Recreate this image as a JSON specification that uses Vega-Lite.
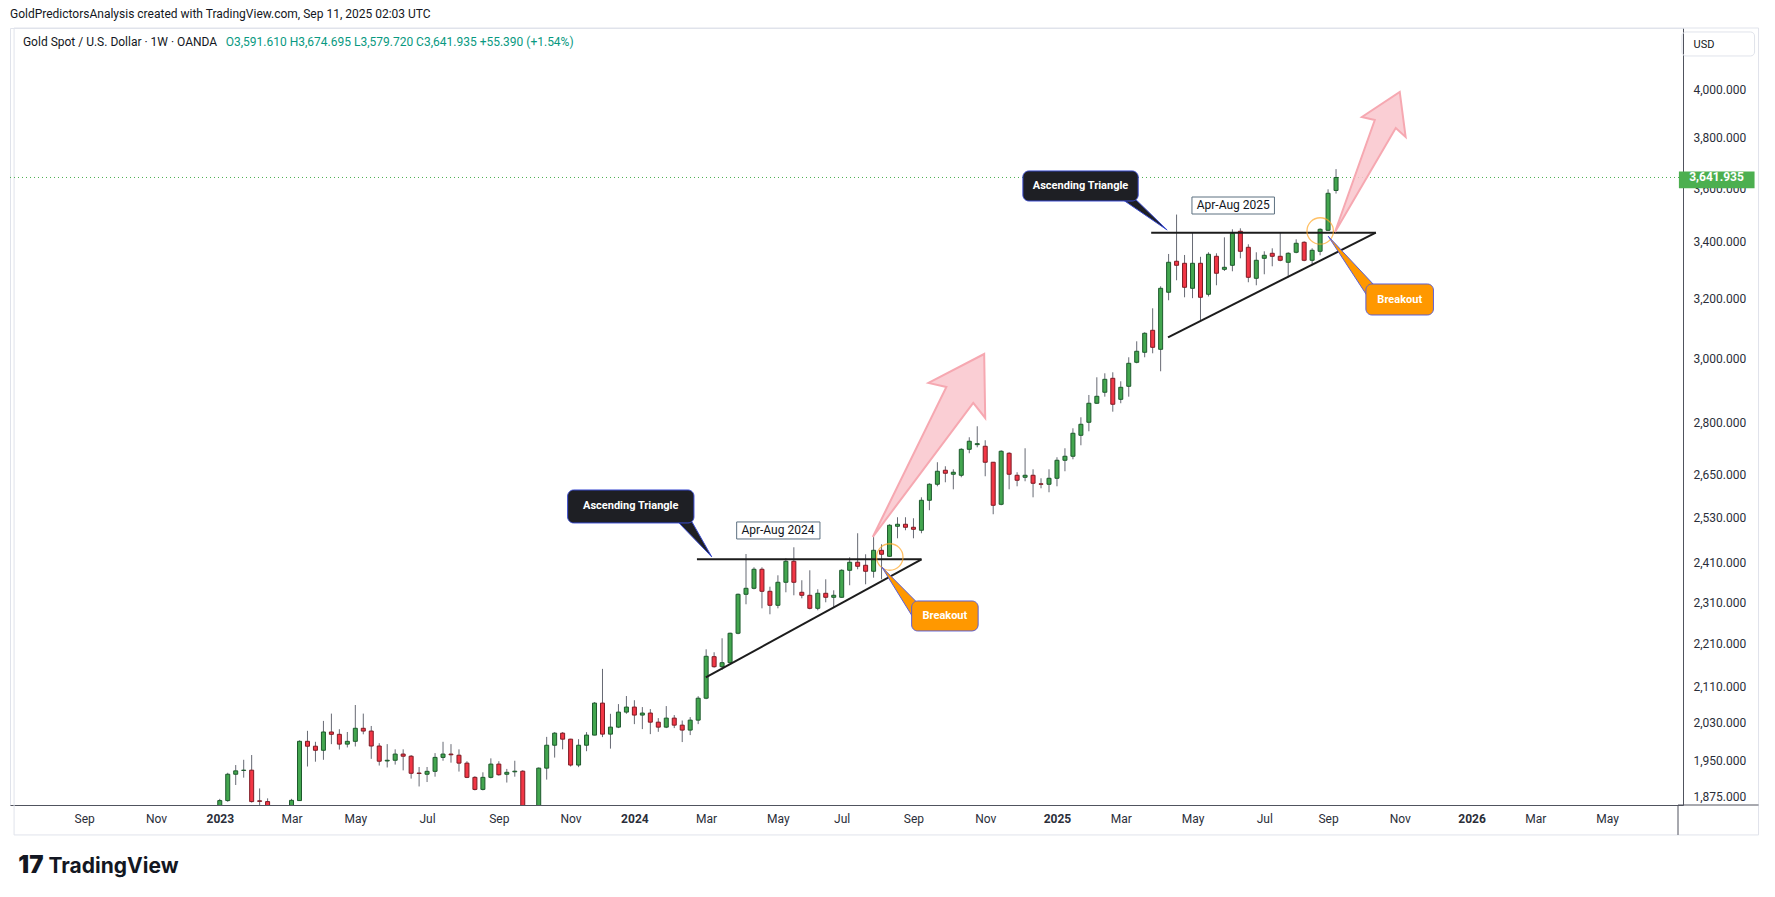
{
  "$schema": "https://vega.github.io/schema/vega-lite/v6.json",
  "width": 1673,
  "height": 777,
  "autosize": {"type": "none"},
  "padding": {"left": 10, "top": 28, "right": 92, "bottom": 92},
  "background": "#ffffff",
  "config": {"view": {"stroke": "#e0e3eb"}, "font": "Roboto"},
  "title": {"text": "GoldPredictorsAnalysis created with TradingView.com, Sep 11, 2025 02:03 UTC", "anchor": "start", "frame": "group", "offset": 7, "fontSize": 12, "fontWeight": "normal", "font": "Roboto", "color": "#131722"},
  "datasets": {
    "candles": [
      {"date":"2023-01-02","open":1826,"high":1871,"low":1822,"close":1867.5},
      {"date":"2023-01-09","open":1867.5,"high":1924,"low":1865,"close":1921},
      {"date":"2023-01-16","open":1921,"high":1940,"low":1899,"close":1928},
      {"date":"2023-01-23","open":1928.8,"high":1951,"low":1914,"close":1929.4},
      {"date":"2023-01-30","open":1929.4,"high":1961,"low":1863.5,"close":1865.5},
      {"date":"2023-02-06","open":1867,"high":1892,"low":1852,"close":1866},
      {"date":"2023-02-13","open":1865.5,"high":1872,"low":1819,"close":1842},
      {"date":"2023-02-20","open":1842,"high":1847,"low":1809,"close":1811},
      {"date":"2023-02-27","open":1811,"high":1858,"low":1804,"close":1856},
      {"date":"2023-03-06","open":1856,"high":1871,"low":1810,"close":1868},
      {"date":"2023-03-13","open":1867.5,"high":1992,"low":1867,"close":1990},
      {"date":"2023-03-20","open":1990,"high":2012.5,"low":1937,"close":1979.6},
      {"date":"2023-03-27","open":1979.6,"high":1989,"low":1947,"close":1971},
      {"date":"2023-04-03","open":1971,"high":2034,"low":1951,"close":2010},
      {"date":"2023-04-10","open":2010,"high":2050,"low":1984,"close":2005},
      {"date":"2023-04-17","open":2005,"high":2016,"low":1972.5,"close":1984},
      {"date":"2023-04-24","open":1984,"high":2010,"low":1977,"close":1990},
      {"date":"2023-05-01","open":1990,"high":2069,"low":1979,"close":2018},
      {"date":"2023-05-08","open":2018,"high":2050,"low":2005,"close":2012},
      {"date":"2023-05-15","open":2012,"high":2023,"low":1953,"close":1980},
      {"date":"2023-05-22","open":1980,"high":1986,"low":1939,"close":1948},
      {"date":"2023-05-29","open":1948.5,"high":1984,"low":1935,"close":1950},
      {"date":"2023-06-05","open":1950,"high":1973,"low":1941,"close":1963},
      {"date":"2023-06-12","open":1963,"high":1973,"low":1929,"close":1958.5},
      {"date":"2023-06-19","open":1958.5,"high":1961,"low":1912,"close":1923},
      {"date":"2023-06-26","open":1923.5,"high":1936,"low":1896,"close":1922.5},
      {"date":"2023-07-03","open":1921,"high":1936,"low":1905,"close":1927},
      {"date":"2023-07-10","open":1927,"high":1965,"low":1916,"close":1956},
      {"date":"2023-07-17","open":1956,"high":1989,"low":1949,"close":1963},
      {"date":"2023-07-24","open":1963,"high":1984,"low":1945,"close":1961.5},
      {"date":"2023-07-31","open":1960.6,"high":1973,"low":1926.5,"close":1944},
      {"date":"2023-08-07","open":1944,"high":1948,"low":1913,"close":1914.6},
      {"date":"2023-08-14","open":1914.6,"high":1917,"low":1888,"close":1890},
      {"date":"2023-08-21","open":1890,"high":1925,"low":1888,"close":1914.6},
      {"date":"2023-08-28","open":1914.6,"high":1954,"low":1912.5,"close":1942},
      {"date":"2023-09-04","open":1942,"high":1948,"low":1918,"close":1920},
      {"date":"2023-09-11","open":1921,"high":1932,"low":1904,"close":1925},
      {"date":"2023-09-18","open":1926,"high":1949,"low":1916,"close":1927.3},
      {"date":"2023-09-25","open":1927.3,"high":1929.4,"low":1846,"close":1848},
      {"date":"2023-10-02","open":1848,"high":1851,"low":1810,"close":1832},
      {"date":"2023-10-09","open":1832,"high":1935,"low":1830,"close":1933.6},
      {"date":"2023-10-16","open":1933.6,"high":1999.5,"low":1910,"close":1981.7},
      {"date":"2023-10-23","open":1981.7,"high":2009.7,"low":1955.6,"close":2007.5},
      {"date":"2023-10-30","open":2007.5,"high":2009.7,"low":1973,"close":1994.6},
      {"date":"2023-11-06","open":1994.6,"high":1995.3,"low":1937,"close":1940},
      {"date":"2023-11-13","open":1940,"high":1994.6,"low":1935.7,"close":1981.7},
      {"date":"2023-11-20","open":1981.7,"high":2009.7,"low":1969,"close":2003.3},
      {"date":"2023-11-27","open":2003.3,"high":2075.4,"low":2003,"close":2073.2},
      {"date":"2023-12-04","open":2073.2,"high":2150.7,"low":1999,"close":2005.4},
      {"date":"2023-12-11","open":2005.4,"high":2049.6,"low":1974.5,"close":2020.5},
      {"date":"2023-12-18","open":2020.5,"high":2071,"low":2018.4,"close":2053.3},
      {"date":"2023-12-25","open":2053.3,"high":2089,"low":2049.6,"close":2064.4},
      {"date":"2024-01-01","open":2064.4,"high":2079.6,"low":2027,"close":2046.8},
      {"date":"2024-01-08","open":2046.8,"high":2064.4,"low":2016.2,"close":2051.2},
      {"date":"2024-01-15","open":2051.2,"high":2060,"low":2005.4,"close":2031.3},
      {"date":"2024-01-22","open":2031.3,"high":2040.1,"low":2010.4,"close":2020.5},
      {"date":"2024-01-29","open":2020.5,"high":2066.6,"low":2018.4,"close":2040.1},
      {"date":"2024-02-05","open":2040.1,"high":2046.8,"low":2018.4,"close":2024.8},
      {"date":"2024-02-12","open":2024.8,"high":2034.9,"low":1988.4,"close":2014.1},
      {"date":"2024-02-19","open":2014.1,"high":2042.3,"low":2003.3,"close":2035.7},
      {"date":"2024-02-26","open":2035.7,"high":2088.6,"low":2027,"close":2084.1},
      {"date":"2024-03-04","open":2084.1,"high":2196.3,"low":2081.9,"close":2179.9},
      {"date":"2024-03-11","open":2179,"high":2189.3,"low":2153.4,"close":2155.7},
      {"date":"2024-03-18","open":2155.7,"high":2222.4,"low":2148.2,"close":2165},
      {"date":"2024-03-25","open":2165,"high":2235.8,"low":2164,"close":2234.4},
      {"date":"2024-04-01","open":2234.4,"high":2331.5,"low":2232,"close":2329.7},
      {"date":"2024-04-08","open":2329.7,"high":2432.5,"low":2304.9,"close":2344.7},
      {"date":"2024-04-15","open":2344.7,"high":2398.1,"low":2342,"close":2393},
      {"date":"2024-04-22","open":2393,"high":2398.1,"low":2294.9,"close":2337.2},
      {"date":"2024-04-29","open":2337.2,"high":2348.7,"low":2280.3,"close":2302.4},
      {"date":"2024-05-06","open":2302.4,"high":2377.6,"low":2294.9,"close":2359.9},
      {"date":"2024-05-13","open":2359.9,"high":2421.3,"low":2334.7,"close":2413.6},
      {"date":"2024-05-20","open":2413.6,"high":2450.1,"low":2327.2,"close":2359.9},
      {"date":"2024-05-27","open":2334.7,"high":2365,"low":2319.7,"close":2327.2},
      {"date":"2024-06-03","open":2327.2,"high":2390.4,"low":2292.5,"close":2294.9},
      {"date":"2024-06-10","open":2294.9,"high":2342.2,"low":2290.1,"close":2332.2},
      {"date":"2024-06-17","open":2332.2,"high":2367.4,"low":2309.8,"close":2322.2},
      {"date":"2024-06-24","open":2322.2,"high":2339.7,"low":2297.4,"close":2327.2},
      {"date":"2024-07-01","open":2322.2,"high":2393,"low":2321,"close":2390.4},
      {"date":"2024-07-08","open":2390.4,"high":2423.9,"low":2352.3,"close":2411.1},
      {"date":"2024-07-15","open":2411.1,"high":2487.2,"low":2393,"close":2400.7},
      {"date":"2024-07-22","open":2403.3,"high":2431.8,"low":2354.8,"close":2387.9},
      {"date":"2024-07-29","open":2387.9,"high":2479.2,"low":2371.5,"close":2442.2},
      {"date":"2024-08-05","open":2442.2,"high":2458,"low":2367.4,"close":2431.8},
      {"date":"2024-08-12","open":2426.5,"high":2511.3,"low":2425,"close":2508.6},
      {"date":"2024-08-19","open":2505.9,"high":2530.2,"low":2473.8,"close":2511.3},
      {"date":"2024-08-26","open":2511.3,"high":2530.2,"low":2495.2,"close":2503.2},
      {"date":"2024-09-02","open":2503.2,"high":2527.5,"low":2473.8,"close":2497.8},
      {"date":"2024-09-09","open":2495.2,"high":2584.9,"low":2487.2,"close":2576.7},
      {"date":"2024-09-16","open":2576.7,"high":2624.1,"low":2549.3,"close":2621.3},
      {"date":"2024-09-23","open":2621.3,"high":2683.9,"low":2615.6,"close":2658.1},
      {"date":"2024-09-30","open":2661,"high":2672.4,"low":2626.9,"close":2652.4},
      {"date":"2024-10-07","open":2649.6,"high":2663.7,"low":2607.2,"close":2655.3},
      {"date":"2024-10-14","open":2646.7,"high":2724.4,"low":2641,"close":2721.4},
      {"date":"2024-10-21","open":2721.4,"high":2756.7,"low":2709.9,"close":2745},
      {"date":"2024-10-28","open":2735,"high":2789.4,"low":2727.3,"close":2737.9},
      {"date":"2024-11-04","open":2730.3,"high":2747.9,"low":2643.9,"close":2683.9},
      {"date":"2024-11-11","open":2683.9,"high":2684.7,"low":2538.4,"close":2562.9},
      {"date":"2024-11-18","open":2565.6,"high":2718.6,"low":2562.9,"close":2715.7},
      {"date":"2024-11-25","open":2709.9,"high":2712.8,"low":2607.2,"close":2649.6},
      {"date":"2024-12-02","open":2646.7,"high":2655.3,"low":2615.6,"close":2632.6},
      {"date":"2024-12-09","open":2641,"high":2724.4,"low":2629.7,"close":2646.7},
      {"date":"2024-12-16","open":2646.7,"high":2663.7,"low":2584.9,"close":2624.1},
      {"date":"2024-12-23","open":2622.5,"high":2638.2,"low":2610,"close":2621.3},
      {"date":"2024-12-30","open":2621.3,"high":2663.7,"low":2598.9,"close":2638.2},
      {"date":"2025-01-06","open":2638.2,"high":2698.3,"low":2615.6,"close":2689.6},
      {"date":"2025-01-13","open":2689.6,"high":2724.4,"low":2658.1,"close":2701.2},
      {"date":"2025-01-20","open":2701.2,"high":2783.4,"low":2692.4,"close":2768.6},
      {"date":"2025-01-27","open":2762.6,"high":2816.4,"low":2733.2,"close":2795.4},
      {"date":"2025-02-03","open":2801.4,"high":2884.6,"low":2774.5,"close":2859.1},
      {"date":"2025-02-10","open":2859.1,"high":2939.8,"low":2857,"close":2880.5},
      {"date":"2025-02-17","open":2893,"high":2952.4,"low":2879.3,"close":2933.4},
      {"date":"2025-02-24","open":2936.6,"high":2955.6,"low":2833.4,"close":2856},
      {"date":"2025-03-03","open":2871.2,"high":2927.2,"low":2859.1,"close":2908.4},
      {"date":"2025-03-10","open":2911.5,"high":3003.5,"low":2879.3,"close":2984.2},
      {"date":"2025-03-17","open":2987.4,"high":3055.4,"low":2984.2,"close":3022.9},
      {"date":"2025-03-24","open":3019.6,"high":3085.1,"low":3003.5,"close":3081.8},
      {"date":"2025-03-31","open":3091.7,"high":3165.4,"low":3016.4,"close":3035.8},
      {"date":"2025-04-07","open":3029.3,"high":3241,"low":2958.8,"close":3234},
      {"date":"2025-04-14","open":3220.3,"high":3355.2,"low":3192.8,"close":3325.5},
      {"date":"2025-04-21","open":3329.1,"high":3500,"low":3262,"close":3314.8},
      {"date":"2025-04-28","open":3321.9,"high":3351.6,"low":3203,"close":3237.5},
      {"date":"2025-05-05","open":3234,"high":3431.6,"low":3200,"close":3321.9},
      {"date":"2025-05-12","open":3321.9,"high":3345,"low":3122.7,"close":3203},
      {"date":"2025-05-19","open":3213.3,"high":3361.3,"low":3205.8,"close":3354.1},
      {"date":"2025-05-26","open":3346.9,"high":3357.7,"low":3244.5,"close":3286.6},
      {"date":"2025-06-02","open":3300.5,"high":3415.7,"low":3294.6,"close":3307.6},
      {"date":"2025-06-09","open":3314.8,"high":3445.1,"low":3293.6,"close":3430.4},
      {"date":"2025-06-16","open":3437.8,"high":3448.8,"low":3339.7,"close":3364.9},
      {"date":"2025-06-23","open":3379.3,"high":3390.2,"low":3255,"close":3272.4},
      {"date":"2025-06-30","open":3268.9,"high":3361.3,"low":3244.5,"close":3332.6},
      {"date":"2025-07-07","open":3339.7,"high":3364.9,"low":3283,"close":3350.5},
      {"date":"2025-07-14","open":3357.7,"high":3375.7,"low":3311.2,"close":3346.9},
      {"date":"2025-07-21","open":3346.9,"high":3434.1,"low":3329.1,"close":3332.6},
      {"date":"2025-07-28","open":3325.5,"high":3361.3,"low":3272.4,"close":3357.7},
      {"date":"2025-08-04","open":3361.3,"high":3408.3,"low":3357.7,"close":3393.9},
      {"date":"2025-08-11","open":3397.5,"high":3401.2,"low":3329.1,"close":3332.6},
      {"date":"2025-08-18","open":3332.6,"high":3375.7,"low":3314.8,"close":3368.5},
      {"date":"2025-08-25","open":3364.9,"high":3448.8,"low":3350.5,"close":3445.1},
      {"date":"2025-09-01","open":3441.5,"high":3596.1,"low":3439,"close":3580.7},
      {"date":"2025-09-08","open":3591.61,"high":3674.695,"low":3579.72,"close":3641.935}
    ],
    "lines": [
      {"date":"2024-02-24T22:00:00Z","date2":"2024-09-09T02:00:00Z","price":2418.7,"price2":2418.7},
      {"date":"2024-03-03T17:00:00Z","date2":"2024-09-09T02:00:00Z","price":2131,"price2":2418.7},
      {"date":"2025-03-29T17:00:00Z","date2":"2025-10-12T22:00:00Z","price":3432.7,"price2":3432.7},
      {"date":"2025-04-13T12:00:00Z","date2":"2025-10-12T22:00:00Z","price":3068.5,"price2":3432.7}
    ],
    "edges": [
      {"date":"2026-07-05T05:00:00Z","date2":"2026-09-13T22:00:00Z","price":1858.7,"price2":1858.7},
      {"date":"2026-07-05T05:00:00Z","date2":"2026-07-05T05:00:00Z","price":1858.7,"price2":1800}
    ],
    "shapes": [
      {"shape":"a2024","kind":"arrow","ord":1,"date":"2024-07-28T07:00:00Z","price":2477.3},
      {"shape":"a2024","kind":"arrow","ord":2,"date":"2024-09-30T22:00:00Z","price":2909.3},
      {"shape":"a2024","kind":"arrow","ord":3,"date":"2024-09-15T05:00:00Z","price":2921.9},
      {"shape":"a2024","kind":"arrow","ord":4,"date":"2024-11-03T02:00:00Z","price":3014.1},
      {"shape":"a2024","kind":"arrow","ord":5,"date":"2024-11-04T00:00:00Z","price":2814.3},
      {"shape":"a2024","kind":"arrow","ord":6,"date":"2024-10-24T12:00:00Z","price":2860.0},
      {"shape":"a2025","kind":"arrow","ord":1,"date":"2025-09-07T02:00:00Z","price":3435.2},
      {"shape":"a2025","kind":"arrow","ord":2,"date":"2025-10-12T00:00:00Z","price":3873.5},
      {"shape":"a2025","kind":"arrow","ord":3,"date":"2025-09-30T17:00:00Z","price":3885.9},
      {"shape":"a2025","kind":"arrow","ord":4,"date":"2025-11-02T22:00:00Z","price":3991.4},
      {"shape":"a2025","kind":"arrow","ord":5,"date":"2025-11-08T02:00:00Z","price":3803.5},
      {"shape":"a2025","kind":"arrow","ord":6,"date":"2025-10-30T10:00:00Z","price":3840.3},
      {"shape":"p2024","kind":"callout","ord":1,"date":"2024-02-06T14:00:00Z","price":2522.9},
      {"shape":"p2024","kind":"callout","ord":2,"date":"2024-02-19T14:00:00Z","price":2522.9},
      {"shape":"p2024","kind":"callout","ord":3,"date":"2024-03-09T00:00:00Z","price":2424.7},
      {"shape":"p2025","kind":"callout","ord":1,"date":"2025-03-02T14:00:00Z","price":3562.6},
      {"shape":"p2025","kind":"callout","ord":2,"date":"2025-03-14T19:00:00Z","price":3562.6},
      {"shape":"p2025","kind":"callout","ord":3,"date":"2025-04-12T17:00:00Z","price":3442.6},
      {"shape":"b2024","kind":"breakout","ord":1,"date":"2024-08-05T05:00:00Z","price":2398.9},
      {"shape":"b2024","kind":"breakout","ord":2,"date":"2024-09-05T14:00:00Z","price":2308.1},
      {"shape":"b2024","kind":"breakout","ord":3,"date":"2024-09-03T00:00:00Z","price":2266.4},
      {"shape":"b2025","kind":"breakout","ord":1,"date":"2025-09-01T00:00:00Z","price":3420.5},
      {"shape":"b2025","kind":"breakout","ord":2,"date":"2025-10-13T19:00:00Z","price":3235.1},
      {"shape":"b2025","kind":"breakout","ord":3,"date":"2025-10-07T17:00:00Z","price":3193.8}
    ],
    "circles": [
      {"date":"2024-08-12T05:00:00Z","price":2424.7},
      {"date":"2025-08-25T02:00:00Z","price":3438.9}
    ],
    "boxes": [
      {"kind":"callout","date":"2023-11-03T10:00:00Z","date2":"2024-02-22T07:00:00Z","price":2605.3,"price2":2514.8},
      {"kind":"callout","date":"2024-12-07T02:00:00Z","date2":"2025-03-18T07:00:00Z","price":3667.5,"price2":3551.3},
      {"kind":"breakout","date":"2024-08-31T10:00:00Z","date2":"2024-10-28T19:00:00Z","price":2313.0,"price2":2239.9},
      {"kind":"breakout","date":"2025-10-04T05:00:00Z","date2":"2025-12-02T12:00:00Z","price":3249,"price2":3142.8},
      {"kind":"period","date":"2024-03-30T19:00:00Z","date2":"2024-06-11T22:00:00Z","price":2517.5,"price2":2472},
      {"kind":"period","date":"2025-05-04T12:00:00Z","date2":"2025-07-15T22:00:00Z","price":3566.5,"price2":3502.1},
      {"kind":"lastprice","date":"2026-07-06T00:00:00Z","date2":"2026-09-10T10:00:00Z","price":3665,"price2":3600},
      {"kind":"currency","date":"2026-07-08T17:00:00Z","date2":"2026-09-10T10:00:00Z","price":4256.6,"price2":4148.5},
      {"kind":"frame","date":"2022-07-05T10:00:00Z","date2":"2026-09-13T22:00:00Z","price":4274.8,"price2":1800}
    ],
    "texts": [
      {"kind":"callout","date":"2023-12-28T19:00:00Z","price":2559.6,"label":"Ascending Triangle"},
      {"kind":"callout","date":"2025-01-26T17:00:00Z","price":3608.9,"label":"Ascending Triangle"},
      {"kind":"breakout","date":"2024-09-29T14:00:00Z","price":2276.1,"label":"Breakout"},
      {"kind":"breakout","date":"2025-11-02T22:00:00Z","price":3195.4,"label":"Breakout"},
      {"kind":"period","date":"2024-05-06T00:00:00Z","price":2494.7,"label":"Apr-Aug 2024"},
      {"kind":"period","date":"2025-06-09T17:00:00Z","price":3534.2,"label":"Apr-Aug 2025"},
      {"kind":"lastprice","date":"2026-08-08T00:00:00Z","price":3641.935,"label":"3,641.935"},
      {"kind":"symbol","date":"2022-07-13T05:00:00Z","price":4211.2,"label":"Gold Spot / U.S. Dollar · 1W · OANDA"},
      {"kind":"ohlc","date":"2023-01-07T05:00:00Z","price":4211.2,"label":"O3,591.610  H3,674.695  L3,579.720  C3,641.935  +55.390 (+1.54%)"},
      {"kind":"logo","date":"2022-07-20T05:00:00Z","price":1741.4,"label":"17"}
    ],
    "lastprice": [{"price":3641.935}]
  },
  "layer": [
    {
      "data": {"name": "candles"},
      "mark": {"type": "rule", "color": "#676a74", "strokeWidth": 1, "clip": true},
      "encoding": {
        "x": {"field": "date", "type": "temporal",
          "scale": {"domain": [{"year": 2022, "month": 7, "date": 6, "hours": 5, "minutes": 31, "utc": true}, {"year": 2026, "month": 7, "date": 5, "hours": 5, "utc": true}]},
          "axis": {
            "values": [
              {"year":2022,"month":9,"date":5,"utc":true},{"year":2022,"month":11,"date":7,"utc":true},
              {"year":2023,"month":1,"date":2,"utc":true},{"year":2023,"month":3,"date":6,"utc":true},
              {"year":2023,"month":5,"date":1,"utc":true},{"year":2023,"month":7,"date":3,"utc":true},
              {"year":2023,"month":9,"date":4,"utc":true},{"year":2023,"month":11,"date":6,"utc":true},
              {"year":2024,"month":1,"date":1,"utc":true},{"year":2024,"month":3,"date":4,"utc":true},
              {"year":2024,"month":5,"date":6,"utc":true},{"year":2024,"month":7,"date":1,"utc":true},
              {"year":2024,"month":9,"date":2,"utc":true},{"year":2024,"month":11,"date":4,"utc":true},
              {"year":2025,"month":1,"date":6,"utc":true},{"year":2025,"month":3,"date":3,"utc":true},
              {"year":2025,"month":5,"date":5,"utc":true},{"year":2025,"month":7,"date":7,"utc":true},
              {"year":2025,"month":9,"date":1,"utc":true},{"year":2025,"month":11,"date":3,"utc":true},
              {"year":2026,"month":1,"date":5,"utc":true},{"year":2026,"month":3,"date":2,"utc":true},
              {"year":2026,"month":5,"date":4,"utc":true}
            ],
            "labelExpr": "utcmonth(datum.value) === 0 ? utcFormat(datum.value, '%Y') : utcFormat(datum.value, '%b')",
            "labelFontWeight": {"condition": {"test": "utcmonth(datum.value) === 0", "value": "bold"}, "value": "normal"},
            "grid": false, "ticks": false, "tickSize": 0, "labelPadding": 8,
            "labelFontSize": 12, "labelColor": "#2a2e39", "labelFont": "Roboto",
            "labelOverlap": false, "labelFlush": false,
            "domainColor": "#50535e", "domainWidth": 1,
            "title": "TradingView", "titleX": 38, "titleY": 61, "titleAlign": "left", "titleBaseline": "middle",
            "titleFontSize": 21, "titleFontWeight": "bold", "titleFont": "Inter", "titleColor": "#131722"
          }
        },
        "y": {"field": "low", "type": "quantitative",
          "scale": {"type": "log", "domain": [1858.7, 4274.8], "nice": false, "zero": false},
          "axis": {
            "orient": "right",
            "values": [1875, 1950, 2030, 2110, 2210, 2310, 2410, 2530, 2650, 2800, 3000, 3200, 3400, 3600, 3800, 4000],
            "format": ",.3f", "grid": false, "ticks": false, "tickSize": 0, "labelPadding": 10,
            "labelFontSize": 12, "labelColor": "#2a2e39", "labelFont": "Roboto",
            "labelOverlap": false, "labelFlush": false, "labelBound": false,
            "domainColor": "#50535e", "domainWidth": 1,
            "title": "USD", "titleAngle": 0, "titleX": 10, "titleY": 16, "titleAlign": "left", "titleBaseline": "middle",
            "titleFontSize": 11, "titleFontWeight": "normal", "titleFont": "Roboto", "titleColor": "#131722"
          }
        },
        "y2": {"field": "high"}
      }
    },
    {
      "data": {"name": "boxes"},
      "transform": [{"filter": "datum.kind === 'frame'"}],
      "mark": {"type": "rect", "fillOpacity": 0, "fill": "#ffffff", "stroke": "#e0e3eb", "strokeWidth": 1, "clip": false},
      "encoding": {
        "x": {"field": "date", "type": "temporal"},
        "x2": {"field": "date2"},
        "y": {"field": "price", "type": "quantitative"},
        "y2": {"field": "price2"}
      }
    },
    {
      "data": {"name": "edges"},
      "mark": {"type": "rule", "color": "#50535e", "strokeWidth": 1, "clip": false},
      "encoding": {
        "x": {"field": "date", "type": "temporal"},
        "x2": {"field": "date2"},
        "y": {"field": "price", "type": "quantitative"},
        "y2": {"field": "price2"}
      }
    },
    {
      "data": {"name": "lastprice"},
      "mark": {"type": "rule", "color": "#4caf50", "strokeWidth": 1, "strokeDash": [1, 3]},
      "encoding": {"y": {"field": "price", "type": "quantitative"}}
    },
    {
      "data": {"name": "candles"},
      "mark": {"type": "bar", "width": 4, "strokeWidth": 1, "clip": true},
      "encoding": {
        "x": {"field": "date", "type": "temporal"},
        "y": {"field": "open", "type": "quantitative"},
        "y2": {"field": "close"},
        "fill": {"condition": {"test": "datum.close >= datum.open", "value": "#43a64f"}, "value": "#f23645"},
        "stroke": {"condition": {"test": "datum.close >= datum.open", "value": "#1d5a2c"}, "value": "#7d1b24"}
      }
    },
    {
      "data": {"name": "lines"},
      "mark": {"type": "rule", "color": "#1c1c1c", "strokeWidth": 2},
      "encoding": {
        "x": {"field": "date", "type": "temporal"},
        "x2": {"field": "date2"},
        "y": {"field": "price", "type": "quantitative"},
        "y2": {"field": "price2"}
      }
    },
    {
      "data": {"name": "shapes"},
      "transform": [{"filter": "datum.kind === 'arrow'"}],
      "mark": {"type": "line", "interpolate": "linear-closed", "fill": "#f9c6cc", "fillOpacity": 0.85, "stroke": "#f6a8b1", "strokeWidth": 2},
      "encoding": {
        "x": {"field": "date", "type": "temporal"},
        "y": {"field": "price", "type": "quantitative"},
        "detail": {"field": "shape"},
        "order": {"field": "ord"}
      }
    },
    {
      "data": {"name": "circles"},
      "mark": {"type": "point", "shape": "circle", "size": 700, "filled": false, "stroke": "#ffa726", "strokeWidth": 1.3},
      "encoding": {
        "x": {"field": "date", "type": "temporal"},
        "y": {"field": "price", "type": "quantitative"}
      }
    },
    {
      "data": {"name": "shapes"},
      "transform": [{"filter": "datum.kind === 'callout'"}],
      "mark": {"type": "line", "interpolate": "linear-closed", "fill": "#1e1f24", "stroke": "#3a4bd0", "strokeWidth": 1},
      "encoding": {
        "x": {"field": "date", "type": "temporal"},
        "y": {"field": "price", "type": "quantitative"},
        "detail": {"field": "shape"},
        "order": {"field": "ord"}
      }
    },
    {
      "data": {"name": "shapes"},
      "transform": [{"filter": "datum.kind === 'breakout'"}],
      "mark": {"type": "line", "interpolate": "linear-closed", "fill": "#ff9800", "stroke": "#5b5fd6", "strokeWidth": 1},
      "encoding": {
        "x": {"field": "date", "type": "temporal"},
        "y": {"field": "price", "type": "quantitative"},
        "detail": {"field": "shape"},
        "order": {"field": "ord"}
      }
    },
    {
      "data": {"name": "boxes"},
      "transform": [{"filter": "datum.kind === 'callout'"}],
      "mark": {"type": "rect", "fill": "#1e1f24", "stroke": "#3a4bd0", "strokeWidth": 1, "cornerRadius": 6},
      "encoding": {
        "x": {"field": "date", "type": "temporal"},
        "x2": {"field": "date2"},
        "y": {"field": "price", "type": "quantitative"},
        "y2": {"field": "price2"}
      }
    },
    {
      "data": {"name": "boxes"},
      "transform": [{"filter": "datum.kind === 'breakout'"}],
      "mark": {"type": "rect", "fill": "#ff9800", "stroke": "#5b5fd6", "strokeWidth": 1, "cornerRadius": 6},
      "encoding": {
        "x": {"field": "date", "type": "temporal"},
        "x2": {"field": "date2"},
        "y": {"field": "price", "type": "quantitative"},
        "y2": {"field": "price2"}
      }
    },
    {
      "data": {"name": "boxes"},
      "transform": [{"filter": "datum.kind === 'period'"}],
      "mark": {"type": "rect", "fill": "#ffffff", "stroke": "#5d7080", "strokeWidth": 1},
      "encoding": {
        "x": {"field": "date", "type": "temporal"},
        "x2": {"field": "date2"},
        "y": {"field": "price", "type": "quantitative"},
        "y2": {"field": "price2"}
      }
    },
    {
      "data": {"name": "boxes"},
      "transform": [{"filter": "datum.kind === 'lastprice'"}],
      "mark": {"type": "rect", "fill": "#4caf50", "clip": false},
      "encoding": {
        "x": {"field": "date", "type": "temporal"},
        "x2": {"field": "date2"},
        "y": {"field": "price", "type": "quantitative"},
        "y2": {"field": "price2"}
      }
    },
    {
      "data": {"name": "boxes"},
      "transform": [{"filter": "datum.kind === 'currency'"}],
      "mark": {"type": "rect", "fill": "#ffffff", "fillOpacity": 0, "stroke": "#e0e3eb", "strokeWidth": 1, "cornerRadius": 4, "clip": false},
      "encoding": {
        "x": {"field": "date", "type": "temporal"},
        "x2": {"field": "date2"},
        "y": {"field": "price", "type": "quantitative"},
        "y2": {"field": "price2"}
      }
    },
    {
      "data": {"name": "texts"},
      "transform": [{"filter": "datum.kind === 'callout' || datum.kind === 'breakout'"}],
      "mark": {"type": "text", "color": "#ffffff", "fontWeight": "bold", "fontSize": 11, "font": "Roboto", "align": "center", "baseline": "middle"},
      "encoding": {
        "x": {"field": "date", "type": "temporal"},
        "y": {"field": "price", "type": "quantitative"},
        "text": {"field": "label"}
      }
    },
    {
      "data": {"name": "texts"},
      "transform": [{"filter": "datum.kind === 'period'"}],
      "mark": {"type": "text", "color": "#131722", "fontSize": 12, "font": "Roboto", "align": "center", "baseline": "middle"},
      "encoding": {
        "x": {"field": "date", "type": "temporal"},
        "y": {"field": "price", "type": "quantitative"},
        "text": {"field": "label"}
      }
    },
    {
      "data": {"name": "texts"},
      "transform": [{"filter": "datum.kind === 'lastprice'"}],
      "mark": {"type": "text", "color": "#ffffff", "fontSize": 12, "fontWeight": "bold", "font": "Roboto", "align": "center", "baseline": "middle", "clip": false},
      "encoding": {
        "x": {"field": "date", "type": "temporal"},
        "y": {"field": "price", "type": "quantitative"},
        "text": {"field": "label"}
      }
    },
    {
      "data": {"name": "texts"},
      "transform": [{"filter": "datum.kind === 'logo'"}],
      "mark": {"type": "text", "color": "#131722", "fontSize": 24, "fontWeight": 900, "font": "Inter", "align": "center", "baseline": "middle", "clip": false},
      "encoding": {
        "x": {"field": "date", "type": "temporal"},
        "y": {"field": "price", "type": "quantitative"},
        "text": {"field": "label"}
      }
    },
    {
      "data": {"name": "texts"},
      "transform": [{"filter": "datum.kind === 'symbol'"}],
      "mark": {"type": "text", "color": "#131722", "fontSize": 12, "font": "Roboto", "align": "left", "baseline": "middle"},
      "encoding": {
        "x": {"field": "date", "type": "temporal"},
        "y": {"field": "price", "type": "quantitative"},
        "text": {"field": "label"}
      }
    },
    {
      "data": {"name": "texts"},
      "transform": [{"filter": "datum.kind === 'ohlc'"}],
      "mark": {"type": "text", "color": "#089981", "fontSize": 12, "font": "Roboto", "align": "left", "baseline": "middle"},
      "encoding": {
        "x": {"field": "date", "type": "temporal"},
        "y": {"field": "price", "type": "quantitative"},
        "text": {"field": "label"}
      }
    }
  ]
}
